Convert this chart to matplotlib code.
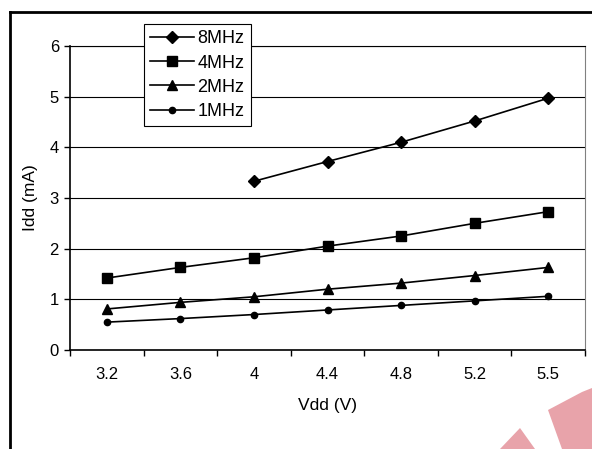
import numpy as np
import matplotlib.pyplot as plt
from matplotlib.patches import Polygon

plt.rcParams['font.family'] = ['Liberation Sans', 'DejaVu Sans']

vdd = ['3.2', '3.6', '4', '4.4', '4.8', '5.2', '5.5']
idd_8mhz = [None, None, 3.33, 3.72, 4.1, 4.52, 4.97]
idd_4mhz = [1.42, 1.63, 1.82, 2.05, 2.25, 2.5, 2.73]
idd_2mhz = [0.81, 0.94, 1.05, 1.2, 1.32, 1.47, 1.63]
idd_1mhz = [0.55, 0.62, 0.7, 0.79, 0.88, 0.97, 1.06]

W, H = 592, 449
fig = plt.figure(figsize=(W / 100, H / 100), dpi=100)
ax = fig.add_axes([70 / W, 1 - 350 / H, 515 / W, 304 / H])

# outer frame (only left and top edges visible in the image)
fig.add_artist(plt.Line2D([10 / W, 10 / W], [0, 1 - 12 / H], transform=fig.transFigure,
                          color='black', lw=2))
fig.add_artist(plt.Line2D([10 / W, 1], [1 - 12 / H, 1 - 12 / H], transform=fig.transFigure,
                          color='black', lw=2))

x = np.arange(len(vdd))
y8 = np.array([np.nan if v is None else v for v in idd_8mhz], dtype=float)
ax.plot(x, y8, '-D', color='black', lw=1.2, ms=6, label='8MHz')
ax.plot(x, idd_4mhz, '-s', color='black', lw=1.2, ms=7, label='4MHz')
ax.plot(x, idd_2mhz, '-^', color='black', lw=1.2, ms=7.5, label='2MHz')
ax.plot(x, idd_1mhz, '-o', color='black', lw=1.2, ms=4.5, label='1MHz')

ax.set_xlim(-0.5, len(vdd) - 0.5)
ax.set_ylim(0, 6)
ax.set_yticks(range(7))
ax.set_xticks(x)
ax.set_xticklabels(vdd)
ax.set_xticks(np.arange(-0.5, len(vdd)), minor=True)
ax.tick_params(axis='x', which='major', length=0, pad=12, labelsize=12)
ax.tick_params(axis='x', which='minor', length=4, width=1, direction='out')
ax.tick_params(axis='y', length=4, width=1, direction='out', labelsize=12, pad=4)
ax.grid(axis='y', color='black', lw=0.8)
ax.set_axisbelow(True)

ax.spines['left'].set_linewidth(1.2)
ax.spines['bottom'].set_linewidth(1.2)
ax.spines['top'].set_linewidth(0.8)
ax.spines['right'].set_color('#808080')
ax.spines['right'].set_linewidth(0.8)

ax.set_xlabel('Vdd (V)', fontsize=12.5, labelpad=12)
ax.set_ylabel('Idd (mA)', fontsize=12.5, labelpad=8)

leg = ax.legend(loc='upper left', bbox_to_anchor=(144 / W, 1 - 24 / H),
                bbox_transform=fig.transFigure, frameon=True, fancybox=False,
                edgecolor='black', framealpha=1, fontsize=13, handlelength=2.4,
                handletextpad=0.2, labelspacing=0.4, borderpad=0.35, borderaxespad=0)
leg.get_frame().set_linewidth(0.8)

# faint red watermark in the lower right corner
wm = '#e8a3aa'
fig.add_artist(Polygon([(548 / W, 1 - 410 / H), (582 / W, 1 - 392 / H), (1, 1 - 388 / H),
                        (1, 0), (562 / W, 0)], closed=True, transform=fig.transFigure,
                       color=wm, lw=0))
fig.add_artist(Polygon([(500 / W, 0), (520 / W, 1 - 428 / H), (535 / W, 0)], closed=True,
                       transform=fig.transFigure, color=wm, lw=0))

fig.savefig('out.png', dpi=100)
